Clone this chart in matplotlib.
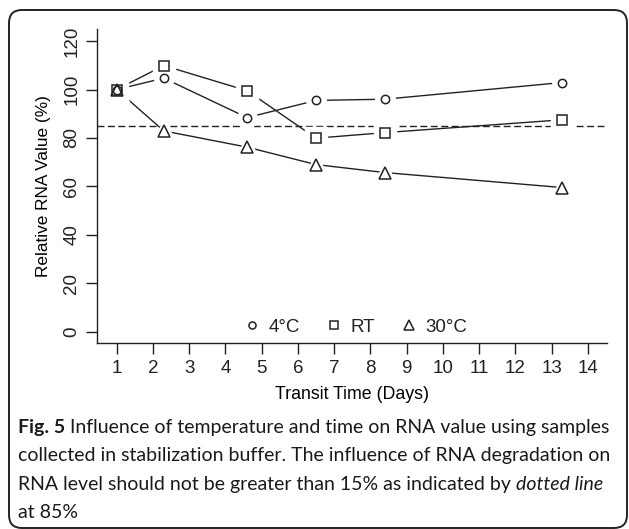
import matplotlib
matplotlib.use("Agg")
import matplotlib.pyplot as plt
from matplotlib.patches import FancyBboxPatch
from matplotlib.transforms import IdentityTransform

# data
days = [1, 2.3, 4.6, 6.5, 8.4, 13.3]
rna_4c = [100, 104.7, 88.4, 95.5, 96.0, 102.9]
rna_rt = [100, 109.9, 99.5, 79.9, 82.2, 87.5]
rna_30c = [100, 82.9, 76.2, 69.0, 65.7, 59.5]
series_labels = ["4°C", "RT", "30°C"]
threshold = 85
x_ticks = list(range(1, 15))
y_ticks = [0, 20, 40, 60, 80, 100, 120]

W, H = 629, 529
INK = "#222222"

plt.rcParams.update({
    "font.family": ["Liberation Sans", "DejaVu Sans"],
    "font.size": 13,
    "axes.linewidth": 1.0,
    "text.color": INK,
    "axes.edgecolor": INK,
    "xtick.color": INK,
    "ytick.color": INK,
})


def px(x, y):
    """pixel position (from top-left) -> figure fraction"""
    return x / W, 1 - y / H


def main():
    fig = plt.figure(figsize=(W / 100, H / 100), dpi=100)
    fig.patch.set_facecolor("white")

    # rounded frame around the whole figure
    frame = FancyBboxPatch((9, 1), 618, 518, boxstyle="round,pad=0,rounding_size=13",
                           transform=IdentityTransform(), fill=False,
                           edgecolor=INK, linewidth=1.4)
    fig.add_artist(frame)

    left, bottom = px(97, 343)
    ax = fig.add_axes([left, bottom, 510 / W, 314 / H])
    ax.set_xlim(0.457, 14.53)
    ax.set_ylim(-4.7, 125)
    ax.spines["top"].set_visible(False)
    ax.spines["right"].set_visible(False)

    ax.axhline(threshold, color=INK, lw=1.0, ls=(0, (5, 2.5)), zorder=1)

    handles = []
    for vals, m, ms in [(rna_4c, "o", 6), (rna_rt, "s", 7.5), (rna_30c, "^", 9)]:
        ax.plot(days, vals, color=INK, lw=1.0, zorder=2)
        ax.plot(days, vals, ls="none", marker=m, ms=ms + 8, mfc="white",
                mec="white", zorder=3)
        h, = ax.plot(days, vals, ls="none", marker=m, ms=ms, mfc="none",
                     mec=INK, mew=1.1, zorder=4)
        handles.append(h)

    ax.legend(handles, series_labels, ncol=3, frameon=False, loc="center",
              bbox_to_anchor=(0.506, 0.051), handlelength=1.0,
              handletextpad=0.4, columnspacing=1.3, fontsize=13.5,
              borderpad=0, markerscale=0.85)

    ax.set_xticks(x_ticks)
    ax.set_yticks(y_ticks)
    ax.tick_params(axis="both", length=8, width=1.0, labelsize=13.5, pad=4)
    for lab in ax.get_yticklabels():
        lab.set_rotation(90)
        lab.set_va("center")
    ax.set_xlabel("Transit Time (Days)", fontsize=12.8, labelpad=7)
    ax.set_ylabel("Relative RNA Value (%)", fontsize=12.4, labelpad=9)

    # caption with mixed weights / styles
    cap = dict(family=["Lato", "DejaVu Sans"], fontsize=14, color="#1a1a1a",
               va="baseline", ha="left")
    renderer = fig.canvas.get_renderer()

    x0, y1 = px(18, 433)
    t = fig.text(x0, y1, "Fig. 5", fontweight="bold", **cap)
    bb = t.get_window_extent(renderer)
    fig.text((bb.x1 + 5) / W, y1,
             "Influence of temperature and time on RNA value using samples", **cap)
    fig.text(x0, px(0, 461.5)[1],
             "collected in stabilization buffer. The influence of RNA degradation on", **cap)
    y3 = px(0, 490)[1]
    t = fig.text(x0, y3, "RNA level should not be greater than 15% as indicated by", **cap)
    bb = t.get_window_extent(renderer)
    fig.text((bb.x1 + 5) / W, y3, "dotted line", style="italic", **cap)
    fig.text(x0, px(0, 518)[1], "at 85%", **cap)

    fig.savefig("out.png", dpi=100, facecolor="white")
    plt.close(fig)


if __name__ == "__main__":
    main()
